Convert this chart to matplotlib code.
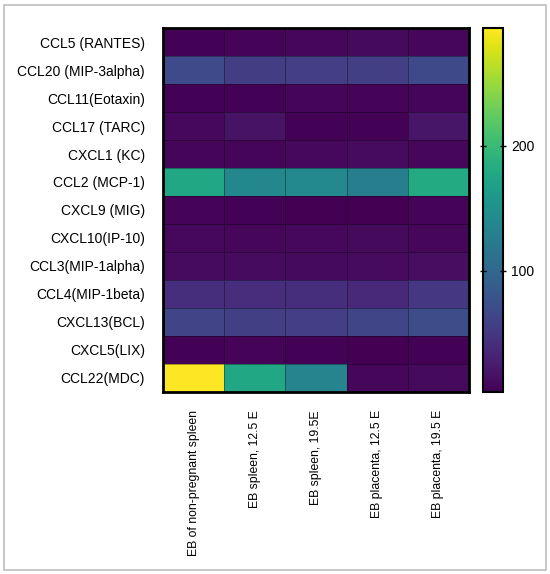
import matplotlib
matplotlib.use('Agg')
import matplotlib.pyplot as plt
import numpy as np
from matplotlib.patches import Rectangle

plt.rcParams['font.family'] = ['Liberation Sans', 'DejaVu Sans']

# chemokines (rows, top to bottom)
chemokines = ['CCL5 (RANTES)', 'CCL20 (MIP-3alpha)', 'CCL11(Eotaxin)', 'CCL17 (TARC)',
              'CXCL1 (KC)', 'CCL2 (MCP-1)', 'CXCL9 (MIG)', 'CXCL10(IP-10)',
              'CCL3(MIP-1alpha)', 'CCL4(MIP-1beta)', 'CXCL13(BCL)', 'CXCL5(LIX)', 'CCL22(MDC)']

# samples (columns)
samples = ['EB of non-pregnant spleen', 'EB spleen, 12.5 E', 'EB spleen, 19.5E',
           'EB placenta, 12.5 E', 'EB placenta, 19.5 E']

# one list per sample column, values estimated from the colour scale
eb_nonpreg_spleen = [5, 68, 5, 9, 7, 176, 6, 9, 11, 41, 62, 5, 294]
eb_spleen_125 = [6, 55, 5, 17, 7, 138, 5, 8, 11, 40, 57, 6, 176]
eb_spleen_195 = [8, 56, 7, 5, 9, 140, 3, 9, 10, 41, 56, 5, 134]
eb_placenta_125 = [10, 57, 6, 5, 11, 128, 4, 10, 11, 37, 63, 4, 8]
eb_placenta_195 = [8, 67, 7, 20, 8, 180, 6, 8, 13, 49, 69, 5, 10]

data = np.array([eb_nonpreg_spleen, eb_spleen_125, eb_spleen_195,
                 eb_placenta_125, eb_placenta_195]).T

fig = plt.figure(figsize=(5.5, 5.74), dpi=100)
# light grey frame round the whole figure
fig.patches.append(Rectangle((0.007, 0.007), 0.985, 0.985, transform=fig.transFigure,
                             fill=False, edgecolor='#bdbdbd', linewidth=1.2))

ax = fig.add_axes([0.2964, 0.3171, 0.5564, 0.6341])
cax = fig.add_axes([0.878, 0.3171, 0.0364, 0.6341])

mesh = ax.pcolormesh(data, cmap='viridis', edgecolors=(0, 0, 0, 0.35), linewidth=0.5)
ax.set_ylim(len(chemokines), 0)
ax.set_xticks(np.arange(len(samples)) + 0.5)
ax.set_xticklabels(samples, rotation=90, va='top', ha='center', fontsize=8.8)
ax.set_yticks(np.arange(len(chemokines)) + 0.5)
ax.set_yticklabels(chemokines, fontsize=10)
ax.tick_params(axis='both', length=0)
ax.tick_params(axis='x', pad=13)
ax.tick_params(axis='y', pad=13)
for s in ax.spines.values():
    s.set_linewidth(2)
    s.set_color('black')

cbar = fig.colorbar(mesh, cax=cax)
cbar.set_ticks([100, 200])
cbar.ax.tick_params(labelsize=10, direction='inout', length=5, width=1, left=True, right=True)
cbar.outline.set_linewidth(1.5)
cbar.outline.set_edgecolor('black')

fig.savefig('out.png', dpi=100)
